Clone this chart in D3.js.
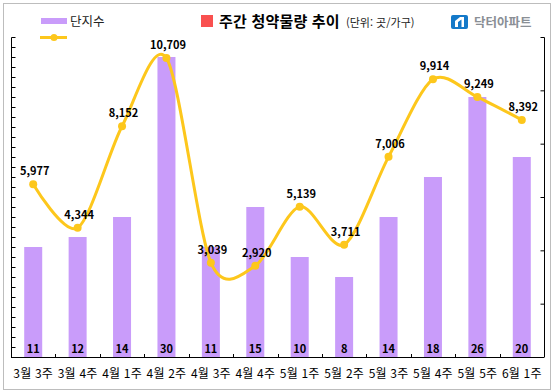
<!DOCTYPE html>
<html lang="ko">
<head>
<meta charset="utf-8">
<script src="https://cdn.jsdelivr.net/npm/d3@7"></script>
<style>
  html, body { margin: 0; padding: 0; background: #fff; }
  svg { display: block; }
  text { font-family: "Noto Sans CJK KR", "Noto Sans", sans-serif; }
</style>
</head>
<body>
<div id="chart"></div>
<script>
// Weekly subscription volume: bars = complexes (left scale), line = households (right scale).
const weeks = ['3월 3주', '3월 4주', '4월 1주', '4월 2주', '4월 3주', '4월 4주',
  '5월 1주', '5월 2주', '5월 3주', '5월 4주', '5월 5주', '6월 1주'];
const complexes = [11, 12, 14, 30, 11, 15, 10, 8, 14, 18, 26, 20];
const households = [5977, 4344, 8152, 10709, 3039, 2920, 5139, 3711, 7006, 9914, 9249, 8392];
const leftTicks = d3.range(0, 33);
const rightTicks = [-500, 1500, 3500, 5500, 7500, 9500, 11500];

const w = 554;
const h = 392;
const m = { top: 37, right: 10, bottom: 35, left: 11 };
const BAR = '#c99cfa';
const LINE = '#fdc71c';

const svg = d3.select('#chart').append('svg')
  .attr('width', w)
  .attr('height', h)
  .attr('viewBox', `0 0 ${w} ${h}`);

// outer frame
svg.append('rect')
  .attr('x', 3.5).attr('y', 3.5)
  .attr('width', 547).attr('height', 386)
  .attr('fill', '#fff')
  .attr('stroke', '#bdbdbd')
  .attr('stroke-width', 1);

const x = d3.scaleBand().domain(weeks).range([m.left, w - m.right]);
const yL = d3.scaleLinear().domain([0, 32]).range([h - m.bottom, m.top]);
const yR = d3.scaleLinear().domain([-500, 11500]).range([h - m.bottom, m.top]);
const cx = (d) => x(d) + x.bandwidth() / 2;

// bars
svg.append('g').selectAll('rect')
  .data(weeks)
  .join('rect')
  .attr('x', (d) => cx(d) - 9)
  .attr('width', 18)
  .attr('y', (d, i) => yL(complexes[i]))
  .attr('height', (d, i) => yL(0) - yL(complexes[i]))
  .attr('fill', BAR);

// axes
const axisL = svg.append('g')
  .attr('transform', `translate(${m.left + 0.5},0)`)
  .call(d3.axisRight(yL).tickValues(leftTicks).tickSize(4).tickFormat(''));
const axisR = svg.append('g')
  .attr('transform', `translate(${w - m.right + 0.5},0)`)
  .call(d3.axisLeft(yR).tickValues(rightTicks).tickSize(4).tickFormat(''));
const axisB = svg.append('g')
  .attr('transform', `translate(0,${h - m.bottom + 0.5})`)
  .call(d3.axisBottom(x).tickSize(0).tickPadding(12));
axisB.select('.domain').attr('d', `M${m.left},0H${w - m.right}`);
axisB.selectAll('text')
  .attr('font-size', 12)
  .style('font-family', '"Noto Sans CJK KR", sans-serif')
  .style('letter-spacing', '0.2px');
for (const a of [axisL, axisR]) {
  a.select('.domain').attr('d', `M0,${m.top + 0.5}V${h - m.bottom}`);
}

// category separators on the baseline
svg.append('g').selectAll('line')
  .data(weeks.slice(1))
  .join('line')
  .attr('x1', (d) => Math.round(x(d)) + 0.5)
  .attr('x2', (d) => Math.round(x(d)) + 0.5)
  .attr('y1', h - m.bottom - 3)
  .attr('y2', h - m.bottom)
  .attr('stroke', '#000');

// bar value labels
svg.append('g').selectAll('text')
  .data(weeks)
  .join('text')
  .attr('x', cx)
  .attr('y', h - m.bottom - 4)
  .attr('text-anchor', 'middle')
  .attr('font-size', 11)
  .attr('font-weight', 700)
  .style('fill', '#000')
  .text((d, i) => complexes[i]);

// smoothed line; low tension overshoots the peak like the reference
const line = d3.line()
  .x((d, i) => cx(weeks[i]))
  .y((d) => yR(d))
  .curve(d3.curveCardinal.tension(0.12));

svg.append('path')
  .datum(households)
  .attr('d', line)
  .attr('fill', 'none')
  .attr('stroke', LINE)
  .attr('stroke-width', 3);

svg.append('g').selectAll('circle')
  .data(households)
  .join('circle')
  .attr('cx', (d, i) => cx(weeks[i]))
  .attr('cy', (d) => yR(d))
  .attr('r', 4)
  .attr('fill', LINE);

svg.append('g').selectAll('text')
  .data(households)
  .join('text')
  .attr('x', (d, i) => cx(weeks[i]) + 1.5)
  .attr('y', (d) => yR(d) - 9)
  .attr('text-anchor', 'middle')
  .attr('font-size', 11)
  .attr('font-weight', 700)
  .style('fill', '#000')
  .text((d) => d3.format(',')(d));

// legend
svg.append('rect').attr('x', 41).attr('y', 18).attr('width', 26).attr('height', 6).attr('fill', BAR);
svg.append('text').attr('x', 70).attr('y', 25.5).attr('font-size', 12.5).style('fill', '#222').text('단지수');
svg.append('line').attr('x1', 40).attr('x2', 67).attr('y1', 37.5).attr('y2', 37.5)
  .attr('stroke', LINE).attr('stroke-width', 3);
svg.append('circle').attr('cx', 54).attr('cy', 37.5).attr('r', 3.5).attr('fill', LINE);

// title
svg.append('rect').attr('x', 201).attr('y', 15).attr('width', 12).attr('height', 12).attr('fill', '#f9504f');
svg.append('text').attr('x', 219).attr('y', 27).attr('font-size', 15).attr('font-weight', 700)
  .style('fill', '#000').style('letter-spacing', '0.2px').text('주간 청약물량 추이');
svg.append('text').attr('x', 346).attr('y', 27).attr('font-size', 11).style('fill', '#222').text('(단위: 곳/가구)');

// logo
svg.append('rect').attr('x', 451).attr('y', 15).attr('width', 17).attr('height', 14).attr('rx', 2).attr('fill', '#1479c9');
svg.append('path').attr('d', 'M455,27V21L460,17H464V27H461.5V19.5L458,22V27Z').attr('fill', '#fff');
svg.append('text').attr('x', 474).attr('y', 26.5).attr('font-size', 12.5).attr('font-weight', 700).style('fill', '#8a8f95').text('닥터아파트');
</script>
</body>
</html>
